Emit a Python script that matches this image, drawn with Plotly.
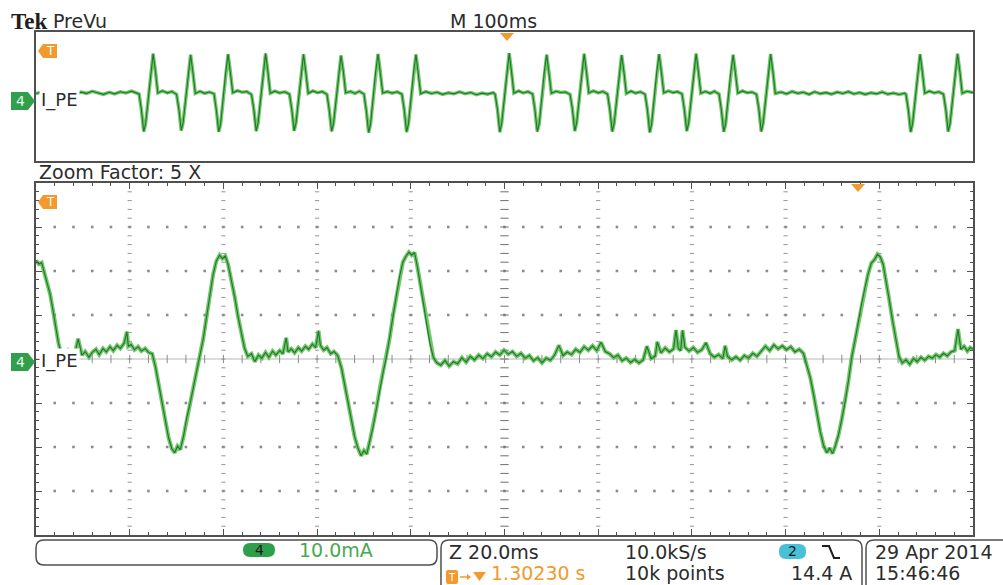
import plotly.graph_objects as go

W, H = 1003, 585

# Zoomed window: time in ms (20 ms/div), current in mA (10 mA/div)
zoom_t = [
    0, 0.6, 1.2, 1.8, 2.4, 3.0, 3.6, 4.2, 4.8, 5.4,
    6.0, 6.8, 7.5, 8.3, 9.0, 9.8, 10.5, 11.3, 12.0, 12.8, 13.5, 14.3, 15.0, 15.8,
    16.5, 17.3, 18.0, 18.8, 19.4, 19.7, 20.3, 21.0, 21.8, 22.5, 23.3, 24.0, 24.8,
    25.5, 26.2, 26.9, 27.6, 28.3, 29.0, 29.6, 30.2, 30.8, 31.5,
    32.2, 32.9, 33.6, 34.3, 35.0, 35.7, 36.4, 37.1, 37.8, 38.5,
    39.2, 39.8, 40.4, 41.0, 41.7, 42.4, 43.1, 43.8, 44.5, 45.2,
    46.0, 46.7, 47.5, 48.2, 49.0, 49.7, 50.5, 51.2, 52.0, 52.7,
    53.4, 53.8, 54.5, 55.2, 56.0, 56.7, 57.5, 58.2, 59.0, 59.7,
    60.3, 60.7, 61.4, 62.1, 62.9, 63.6, 64.4,
    65.2, 65.9, 66.6, 67.3, 68.0, 68.7, 69.4, 70.0, 70.6, 71.3,
    72.0, 72.7, 73.4, 74.1, 74.8, 75.5, 76.2, 76.9, 77.6, 78.3,
    79.0, 79.6, 80.2, 80.8, 81.4, 82.0, 82.7, 83.4, 84.1, 84.8,
    85.5, 86.4, 87.3, 88.2, 89.1, 90.0, 90.9, 91.8, 92.7, 93.6,
    94.5, 95.4, 96.3, 97.2, 98.1, 99.0, 99.9, 100.8, 101.7, 102.6,
    103.5, 104.4, 105.3, 106.2, 107.1, 108.0, 108.9, 109.8, 110.7, 111.6,
    112.5, 113.4, 114.3, 115.2, 116.1, 117.0, 117.9, 118.8, 119.7, 120.6,
    121.5, 122.4, 123.3, 124.2, 125.1, 126.0, 126.9, 127.8, 128.7, 129.6,
    130.4, 131.3, 132.2, 132.6, 133.4, 134.3, 135.2, 136.1, 136.6, 137.1,
    137.6, 138.0, 138.5, 139.4, 140.3, 141.2, 142.1, 143.0, 143.9, 144.8,
    145.7, 146.6, 147.1, 147.6, 148.5, 149.4, 150.3, 151.2, 152.1, 153.0,
    153.9, 154.8, 155.7, 156.6, 157.5, 158.4, 159.3, 160.2, 161.1, 162.0,
    162.9, 163.8,
    164.6, 165.3, 166.0, 166.7, 167.4, 168.1, 168.8, 169.4, 170.0, 170.6,
    171.3, 172.0, 172.7, 173.4, 174.1, 174.8, 175.5, 176.2, 176.9, 177.6,
    178.3, 179.0, 179.6, 180.2, 180.8, 181.4, 182.1, 182.8, 183.5, 184.2,
    184.9, 185.7, 186.5, 187.3, 188.1, 188.9, 189.7, 190.5, 191.3, 192.1,
    192.9, 193.7, 194.5, 195.3, 196.1, 196.8, 197.4, 198.1, 198.8, 199.4,
    200.0,
]
zoom_v = [
    22.4, 21.6, 21.9, 19.5, 17.2, 14.8, 11.2, 7.4, 3.6, 1.2,
    0.8, 1.9, 0.6, 1.4, 4.6, 0.9, 1.7, 0.4, 1.5, 2.2, 1.0, 2.4, 1.6, 2.8,
    1.9, 3.1, 2.4, 3.6, 6.2, 2.9, 3.3, 2.1, 2.8, 1.8, 2.4, 1.5, 1.2,
    -1.8, -6.0, -10.2, -14.3, -17.9, -20.4, -21.3, -19.8, -20.6, -17.5,
    -13.2, -10.1, -6.4, -3.0, 0.3, 4.6, 9.5, 14.8, 19.2, 22.3,
    23.6, 22.8, 23.4, 21.5, 18.0, 14.2, 9.8, 5.9, 2.5, 0.6,
    1.2, -0.6, 0.9, 0.2, 1.5, 0.4, 1.8, 0.9, 1.9, 1.2,
    4.8, 1.6, 2.3, 1.4, 2.6, 1.8, 2.9, 2.2, 3.4, 2.6,
    6.4, 3.1, 2.0, 2.6, 1.2, 1.7, 0.8,
    -2.0, -5.9, -9.8, -14.1, -17.6, -20.2, -22.0, -20.8, -21.6, -18.4,
    -15.2, -11.0, -6.5, -3.0, 0.5, 4.8, 9.9, 14.3, 18.7, 22.0,
    23.4, 24.3, 23.6, 24.2, 21.0, 17.4, 12.6, 7.8, 3.5, 0.4,
    -0.8, -1.4, -0.3, -1.6, -0.6, -1.1, 0.3, -0.7, 0.6, -0.2,
    0.9, 0.1, 1.2, 0.5, 1.6, 0.9, 2.0, 1.1, 1.7, 0.6,
    1.3, 0.2, 0.8, -0.4, 0.3, -0.9, 0.2, -0.3, 0.9, 3.1,
    0.8, 1.6, 1.0, 2.2, 1.5, 2.8, 2.0, 3.0, 1.9, 3.8,
    1.7, 1.2, 0.3, 0.9, -0.4, 0.2, -0.8, -0.1, -0.9, -0.2,
    2.9, 0.1, 0.7, 3.9, 1.4, 2.5, 1.6, 2.3, 6.6, 2.4,
    1.9, 6.5, 2.7, 1.8, 2.6, 1.5, 2.1, 3.7, 1.2, 0.4,
    1.0, 0.1, 3.0, 0.6, -0.2, 0.5, -0.3, 0.8, 0.2, 1.3,
    0.6, 1.8, 2.9, 1.9, 3.2, 2.3, 3.0, 2.1, 2.8, 1.6,
    2.2, 1.3,
    -1.5, -4.4, -8.2, -12.6, -16.5, -19.6, -21.3, -20.2, -21.5, -19.8,
    -17.2, -13.6, -9.8, -5.0, 0.3, 4.2, 8.6, 12.4, 16.0, 19.3,
    21.8, 22.6, 23.8, 23.2, 21.6, 18.2, 13.6, 8.9, 4.3, 0.6,
    -0.9, -0.2, -1.2, 0.1, -0.6, 0.4, -0.3, 0.6, 0.2, 1.0,
    0.4, 1.3, 0.7, 1.6, 1.9, 6.8, 2.2, 2.9, 1.8, 2.6,
    2.2,
]

# PreVu (full record): time in ms (100 ms/div), current in mA
prevu_t = [
    0, 6, 12, 18, 24, 30, 36, 42, 48, 54, 60, 66, 72, 78, 84, 90, 96, 102, 107,
    110, 112.5, 115, 117, 120, 122.5, 125, 127.5, 130, 135, 140, 145,
    150, 152.5, 155, 157, 160, 162.5, 165, 167.5, 170, 175, 180, 185,
    190, 192.5, 195, 197, 200, 202.5, 205, 207.5, 210, 215, 220, 225,
    230, 232.5, 235, 237, 240, 242.5, 245, 247.5, 250, 255, 260, 265.5,
    270.5, 273, 275.5, 277.5, 280.5, 283, 285.5, 288, 290.5, 295.5, 300.5, 305.5,
    310.5, 313, 315.5, 317.5, 320.5, 323, 325.5, 328, 330.5, 335.5, 340.5, 345,
    350, 352.5, 355, 357, 360, 362.5, 365, 367.5, 370, 375, 380, 385.5,
    390.5, 393, 395.5, 397.5, 400.5, 403, 405.5, 408, 410.5,
    416, 422, 428, 434, 440, 446, 452, 458, 464, 470, 476, 482, 488,
    490, 492.5, 495, 497, 500, 502.5, 505, 507.5, 510, 515, 520, 525,
    530, 532.5, 535, 537, 540, 542.5, 545, 547.5, 550, 555, 560, 565,
    570, 572.5, 575, 577, 580, 582.5, 585, 587.5, 590, 595, 600, 605,
    610, 612.5, 615, 617, 620, 622.5, 625, 627.5, 630, 635, 640, 645,
    650, 652.5, 655, 657, 660, 662.5, 665, 667.5, 670, 675, 680, 684.5,
    689.5, 692, 694.5, 696.5, 699.5, 702, 704.5, 707, 709.5, 714.5, 719.5, 724,
    729, 731.5, 734, 736, 739, 741.5, 744, 746.5, 749, 754, 759, 764,
    769, 771.5, 774, 776, 779, 781.5, 784, 786.5, 789,
    795, 801, 807, 813, 819, 825, 831, 837, 843, 849, 855, 861,
    867, 873, 879, 885, 891, 897, 903, 909, 915, 921, 927,
    928.5, 931, 933.5, 935.5, 938.5, 941, 943.5, 946, 948.5, 953.5, 958.5, 963.5,
    968.5, 971, 973.5, 975.5, 978.5, 981, 983.5, 986, 988.5, 993.5, 1000,
]
prevu_v = [
    1.5, 2.4, 1.2, 2.6, 1.8, 0.9, 2.0, 1.1, 2.3, 1.6, 2.8, 1.7, 1.0, 2.2, 1.3, 2.5, 1.8, 2.9, 1.6,
    1.2, -8.3, -21.2, -16.4, 0.6, 14.2, 25.3, 14.6, 1.8, 3.1, 1.9, 2.7,
    1.0, -7.8, -20.6, -15.9, 0.2, 13.6, 24.6, 13.9, 1.5, 2.8, 1.6, 2.4,
    1.3, -8.5, -21.4, -16.8, 0.8, 14.4, 25.0, 14.1, 2.0, 3.2, 2.2, 2.6,
    0.9, -8.1, -21.0, -16.2, 0.4, 13.9, 25.4, 14.3, 1.7, 2.9, 1.8, 2.5,
    1.1, -8.0, -20.8, -16.0, 0.5, 14.0, 24.9, 14.0, 1.6, 3.0, 2.0, 2.6,
    1.0, -8.4, -21.1, -16.5, 0.4, 14.3, 24.2, 14.5, 1.9, 2.7, 1.5, 2.8,
    1.2, -8.6, -21.8, -16.9, 0.6, 14.6, 25.1, 14.2, 1.8, 2.6, 1.7, 2.5,
    1.1, -8.2, -21.5, -16.6, 0.7, 14.4, 24.8, 13.8, 1.4,
    2.6, 1.5, 2.2, 1.0, 1.9, 1.3, 2.5, 1.4, 2.1, 0.8, 1.7, 1.1, 2.0,
    1.0, -8.0, -21.6, -16.3, 0.3, 14.0, 25.6, 14.4, 1.7, 3.0, 1.8, 2.6,
    1.2, -8.3, -21.2, -16.7, 0.6, 14.5, 24.7, 14.0, 1.6, 2.8, 2.1, 2.4,
    0.9, -7.9, -20.9, -16.1, 0.4, 13.8, 25.2, 14.3, 1.8, 3.1, 1.9, 2.7,
    1.1, -8.4, -21.3, -16.4, 0.5, 14.2, 24.5, 14.1, 1.5, 2.9, 1.7, 2.5,
    1.0, -8.1, -21.7, -16.8, 0.7, 14.4, 25.0, 14.6, 1.9, 3.0, 2.0, 2.6,
    1.2, -8.2, -21.0, -16.2, 0.3, 13.9, 25.3, 14.2, 1.6, 2.7, 1.6, 2.8,
    1.1, -8.5, -21.4, -16.6, 0.6, 14.3, 24.6, 14.0, 1.7, 3.0, 1.9, 2.4,
    1.0, -8.0, -21.2, -16.3, 0.5, 14.1, 25.1, 14.4, 1.5,
    2.4, 1.3, 2.7, 1.6, 2.2, 1.0, 2.5, 1.4, 2.0, 1.1, 2.3, 1.5,
    2.6, 1.2, 2.1, 1.0, 1.9, 1.3, 2.4, 1.1, 1.8, 0.9, 1.6,
    1.0, -8.3, -21.5, -16.5, 0.4, 14.2, 24.9, 14.3, 1.7, 2.9, 1.8, 2.5,
    1.1, -8.1, -21.2, -16.4, 0.6, 14.0, 25.2, 14.5, 1.6, 2.8, 2.0,
]
assert len(zoom_t) == len(zoom_v)
assert len(prevu_t) == len(prevu_v)

# scope settings
ZOOM_TIME_RANGE = [0, 200]      # 10 div x 20 ms
ZOOM_CURRENT_RANGE = [-40, 40]  # 8 div x 10 mA
PREVU_TIME_RANGE = [0, 1000]    # 10 div x 100 ms
PREVU_CURRENT_RANGE = [-38.8, 38.2]

header_brand = "Tek"
header_mode = "PreVu"
header_timebase = "M 100ms"
zoom_label = "Zoom Factor: 5 X"
channel_label = "I_PE"
ch_number = "4"
ch_scale = "10.0mA"
zoom_timebase = "Z 20.0ms"
trigger_pos = "1.30230 s"
sample_rate = "10.0kS/s"
record_len = "10k points"
trig_source = "2"
trig_level = "14.4 A"
date_text = "29 Apr 2014"
time_text = "15:46:46"

# ---------------- helpers ----------------
def px(x):
    return x / W


def py(y):
    return 1 - y / H


def path(points, close=True):
    s = "M " + " L ".join(f"{px(x):.5f},{py(y):.5f}" for x, y in points)
    return s + (" Z" if close else "")


def rrect(x0, y0, x1, y1, r):
    P = lambda x, y: f"{px(x):.5f},{py(y):.5f}"
    return (f"M {P(x0 + r, y0)} L {P(x1 - r, y0)} Q {P(x1, y0)} {P(x1, y0 + r)} "
            f"L {P(x1, y1 - r)} Q {P(x1, y1)} {P(x1 - r, y1)} L {P(x0 + r, y1)} "
            f"Q {P(x0, y1)} {P(x0, y1 - r)} L {P(x0, y0 + r)} Q {P(x0, y0)} {P(x0 + r, y0)} Z")


FONT = "DejaVu Sans"
TXT = "#2c2c2c"
ORANGE = "#f29a2e"
GREEN_TXT = "#4aa84e"
GREEN_BADGE = "#2f9f4b"
CYAN = "#48c0d8"
FRAME = "#505050"

annotations = []
shapes = []


def text(x, y, s, size=19, color=TXT, xanchor="left", family=FONT, bg=None):
    a = dict(x=px(x), y=py(y), xref="paper", yref="paper", text=s, showarrow=False,
             xanchor=xanchor, yanchor="middle",
             font=dict(family=family, size=size, color=color))
    if bg:
        a["bgcolor"] = bg
    annotations.append(a)


def shape_path(p, fill=None, line=None, lw=1.5):
    shapes.append(dict(type="path", path=p, xref="paper", yref="paper",
                       fillcolor=fill if fill else "rgba(0,0,0,0)",
                       line=dict(color=line if line else "rgba(0,0,0,0)", width=lw if line else 0),
                       layer="above"))


# ---------------- figure ----------------
fig = go.Figure()

xdom = [36 / W, 973 / W]
top_dom = [py(161), py(32)]
bot_dom = [py(535), py(183)]

# graticule (zoom panel)
gx, gy = [], []
for xv in range(20, 200, 20):
    if xv == 100:
        continue
    for k in range(-19, 20):
        gx.append(xv)
        gy.append(k * 2)
hx, hy = [], []
for yv in (-30, -20, -10, 10, 20, 30):
    for k in range(1, 50):
        hx.append(k * 4)
        hy.append(yv)
fig.add_trace(go.Scatter(x=gx, y=gy, xaxis="x2", yaxis="y2", mode="markers",
                         marker=dict(symbol="line-ew", size=3, line=dict(width=1, color="#959595")),
                         hoverinfo="skip", showlegend=False))
fig.add_trace(go.Scatter(x=hx, y=hy, xaxis="x2", yaxis="y2", mode="markers",
                         marker=dict(symbol="square", size=2.6, color="#8c8c8c", line=dict(width=0)),
                         hoverinfo="skip", showlegend=False))
cvx = [100] * 39
cvy = [k * 2 for k in range(-19, 20)]
fig.add_trace(go.Scatter(x=cvx, y=cvy, xaxis="x2", yaxis="y2", mode="markers",
                         marker=dict(symbol="line-ew", size=6, line=dict(width=1, color="#6e6e6e")),
                         hoverinfo="skip", showlegend=False))
chx = [k * 4 for k in range(1, 50)]
chy = [0] * 49
fig.add_trace(go.Scatter(x=chx, y=chy, xaxis="x2", yaxis="y2", mode="markers",
                         marker=dict(symbol="line-ns", size=6, line=dict(width=1, color="#8a8a8a")),
                         hoverinfo="skip", showlegend=False))
shapes.append(dict(type="line", xref="x2", yref="y2", x0=0, x1=200, y0=0, y1=0,
                   line=dict(color="#b8b8b8", width=1.2), layer="below"))

# waveforms
for xs, ys, xa, ya, w in ((prevu_t, prevu_v, "x", "y", 3.5), (zoom_t, zoom_v, "x2", "y2", 4)):
    fig.add_trace(go.Scatter(x=xs, y=ys, xaxis=xa, yaxis=ya, mode="lines",
                             line=dict(color="rgba(88,190,78,0.85)", width=w),
                             hoverinfo="skip", showlegend=False))
    fig.add_trace(go.Scatter(x=xs, y=ys, xaxis=xa, yaxis=ya, mode="lines",
                             line=dict(color="#22742f", width=1.1),
                             hoverinfo="skip", showlegend=False))

# header texts
text(9, 22, "<b>" + header_brand + "</b>", size=23, color="#1e1e1e", family="Liberation Serif")
text(51, 21, header_mode)
text(448, 21, header_timebase)
text(37, 172, zoom_label)

# trigger markers
for yc in (51, 202):
    shape_path(path([(38, yc), (43, yc - 7), (57, yc - 7), (57, yc + 7), (43, yc + 7)]), fill=ORANGE)
    text(50, yc, "T", size=12, color="white", xanchor="center")
shape_path(path([(500, 33), (514, 33), (507, 41)]), fill=ORANGE)
shape_path(path([(851, 184), (865, 184), (858, 192)]), fill=ORANGE)

# channel markers + labels
for yc in (101, 362):
    text(39, yc - 1, channel_label, size=18, color=TXT, bg="white")
    shape_path(path([(11, yc - 9), (28, yc - 9), (35, yc), (28, yc + 9), (11, yc + 9)]), fill=GREEN_BADGE)
    text(20, yc, ch_number, size=14, color="#e8f5e8", xanchor="center")

# status bar
shape_path(rrect(36, 540, 437, 565, 8), line=FRAME)
shape_path(rrect(243, 543, 275, 557, 7), fill=GREEN_BADGE)
text(259, 550, ch_number, size=14, color="#1a1a1a", xanchor="center")
text(297, 550, ch_scale, color=GREEN_TXT)

shape_path(rrect(441, 540, 862, 605, 8), line=FRAME)
shape_path(rrect(866, 540, 1015, 605, 8), line=FRAME)
text(447, 552, zoom_timebase)
text(623, 552, sample_rate)
shape_path(rrect(779, 544, 806, 559, 7), fill=CYAN)
text(792, 551, trig_source, size=14, color="#1a1a1a", xanchor="center")
shape_path(path([(822, 546), (829, 546), (834, 558), (840, 558)], close=False), line="#1e1e1e", lw=2)
text(854, 573, trig_level, xanchor="right")
shape_path(rrect(446, 570, 458, 584, 2), fill=ORANGE)
text(452, 577, "T", size=10, color="white", xanchor="center")
shape_path(path([(460, 577), (469, 577)], close=False), line=ORANGE, lw=1.5)
shape_path(path([(467, 574), (471, 577), (467, 580)]), fill=ORANGE)
shape_path(path([(473, 572), (486, 572), (479.5, 581)]), fill=ORANGE)
text(489, 573, trigger_pos, color=ORANGE)
text(623, 573, record_len)
text(873, 552, date_text)
text(873, 573, time_text)

axis_common = dict(showticklabels=False, showgrid=False, zeroline=False, fixedrange=True,
                   showline=True, linecolor=FRAME, linewidth=2)

fig.update_layout(
    width=W, height=H, margin=dict(l=0, r=0, t=0, b=0), autosize=False,
    paper_bgcolor="white", plot_bgcolor="white", showlegend=False,
    xaxis=dict(domain=xdom, range=PREVU_TIME_RANGE, anchor="y", mirror=True, ticks="",
               **axis_common),
    yaxis=dict(domain=top_dom, range=PREVU_CURRENT_RANGE, anchor="x", mirror=True, ticks="",
               **axis_common),
    xaxis2=dict(domain=xdom, range=ZOOM_TIME_RANGE, anchor="y2", mirror="ticks",
                ticks="inside", ticklen=6, tickwidth=1, tickcolor=FRAME, dtick=20, tick0=0,
                minor=dict(ticks="inside", dtick=4, tick0=0, ticklen=3, tickwidth=1, tickcolor=FRAME),
                **axis_common),
    yaxis2=dict(domain=bot_dom, range=ZOOM_CURRENT_RANGE, anchor="x2", mirror="ticks",
                ticks="inside", ticklen=6, tickwidth=1, tickcolor=FRAME, dtick=10, tick0=0,
                minor=dict(ticks="inside", dtick=2, tick0=0, ticklen=3, tickwidth=1, tickcolor=FRAME),
                **axis_common),
    annotations=annotations,
    shapes=shapes,
)

fig.write_html(
    "out.html",
    config={"displayModeBar": False},
    post_script="document.body.style.margin='0';document.body.style.overflow='hidden';",
)
